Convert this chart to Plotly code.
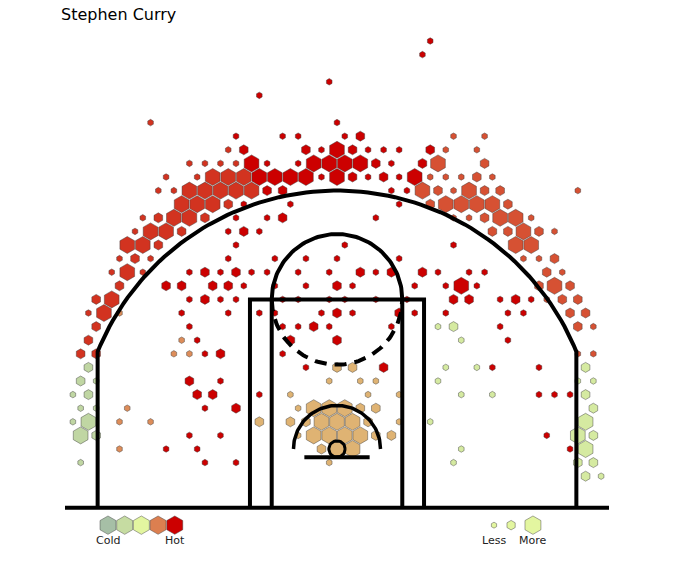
import numpy as np
import plotly.graph_objects as go

# Shot bins: (row, col, frequency level 1-4) on the hex grid, hoop at row 0 / col 0.
# col counts half-hex steps, so even rows use even cols and odd rows odd cols.
mid_range = [
    (30, 12, 1), (29, 11, 1), (27, -1, 1), (26, -10, 1), (24, 0, 1),
    (23, -13, 1), (23, -7, 1), (23, -5, 1), (23, 1, 1), (23, 3, 2),
    (22, -12, 2), (22, -4, 2), (22, -2, 1), (22, 0, 4), (22, 2, 2), (22, 4, 1), (22, 6, 1), (22, 8, 1), (22, 12, 2),
    (21, -11, 4), (21, -9, 1), (21, -5, 1), (21, -3, 4), (21, -1, 4), (21, 1, 4), (21, 3, 4), (21, 5, 2), (21, 7, 1), (21, 11, 2),
    (20, -10, 4), (20, -8, 4), (20, -6, 4), (20, -4, 4), (20, -2, 1), (20, 0, 4), (20, 2, 2), (20, 4, 1), (20, 6, 2), (20, 8, 1), (20, 10, 4),
    (19, -9, 2), (19, -7, 2), (19, 7, 1), (19, 9, 1),
    (18, -12, 1), (18, -6, 1), (18, 8, 1),
    (17, -13, 1), (17, -9, 1), (17, -7, 2), (17, 5, 1),
    (16, -14, 1), (16, -12, 2), (16, -10, 1),
    (15, -13, 1), (15, 1, 1), (15, 15, 1),
    (14, -14, 1), (14, -8, 1), (14, -4, 1), (14, 0, 1), (14, 8, 1),
    (13, -19, 1), (13, -17, 2), (13, -15, 1), (13, -13, 2), (13, -11, 1), (13, -9, 1), (13, -5, 1), (13, -1, 1),
    (13, 3, 2), (13, 5, 1), (13, 7, 2), (13, 11, 2), (13, 13, 1), (13, 17, 1), (13, 19, 1),
    (12, -22, 2), (12, -20, 2), (12, -16, 2), (12, -14, 2), (12, -12, 1), (12, -8, 1), (12, -4, 1), (12, 0, 2),
    (12, 2, 1), (12, 10, 1), (12, 14, 1), (12, 16, 4), (12, 18, 1),
    (11, -19, 1), (11, -17, 2), (11, -15, 1), (11, -13, 1), (11, -7, 1), (11, -5, 1), (11, -1, 1), (11, 1, 1),
    (11, 5, 1), (11, 9, 1), (11, 15, 2), (11, 17, 2), (11, 21, 1), (11, 23, 2), (11, 25, 1),
    (10, -20, 1), (10, -14, 1), (10, -10, 1), (10, -8, 1), (10, -2, 1), (10, 0, 2), (10, 2, 1), (10, 8, 2),
    (10, 10, 1), (10, 14, 1), (10, 22, 1), (10, 24, 1),
    (9, -19, 1), (9, -7, 1), (9, -5, 1), (9, -3, 2), (9, -1, 1), (9, 7, 1), (9, 21, 1),
    (8, -18, 1), (8, -6, 2), (8, 0, 2), (8, 22, 1),
    (7, -17, 1), (7, -15, 2), (7, -7, 1),
    (6, -4, 1), (6, 6, 2), (6, 20, 1), (6, 26, 1),
    (5, -19, 2), (5, -15, 1),
    (4, -18, 2), (4, -16, 2), (4, -10, 1), (4, 26, 1), (4, 28, 1), (4, 30, 1),
    (3, -17, 1), (3, -13, 2),
    (1, -19, 1), (1, -15, 1), (1, 27, 1),
    (0, -22, 1), (0, -18, 1), (0, 30, 1),
    (-1, -17, 1), (-1, -13, 1),
]
left_wing = [
    (24, -24, 1), (22, -14, 1),
    (21, -19, 1), (21, -17, 1), (21, -15, 1), (21, -13, 1),
    (20, -22, 1), (20, -18, 1), (20, -16, 4), (20, -14, 4), (20, -12, 4),
    (19, -23, 1), (19, -21, 1), (19, -19, 4), (19, -17, 4), (19, -15, 4), (19, -13, 4), (19, -11, 4),
    (18, -20, 4), (18, -18, 4), (18, -16, 4), (18, -14, 2),
    (17, -25, 1), (17, -23, 2), (17, -21, 4), (17, -19, 4), (17, -17, 2),
    (16, -26, 1), (16, -24, 4), (16, -22, 4), (16, -20, 2),
    (15, -27, 4), (15, -25, 4), (15, -23, 2),
    (14, -28, 1), (14, -26, 2), (14, -24, 1),
    (13, -29, 1), (13, -27, 4), (13, -25, 1),
    (12, -28, 2), (11, -31, 2), (11, -29, 4), (10, -32, 1), (10, -30, 4),
    (9, -31, 2), (8, -32, 2), (7, -33, 2), (7, -31, 2),
]
right_wing = [
    (23, 15, 1), (23, 19, 1), (22, 14, 1), (22, 18, 1), (21, 13, 4), (21, 19, 2),
    (20, 12, 1), (20, 14, 1), (20, 16, 1), (20, 18, 2), (20, 20, 1),
    (19, 11, 4), (19, 13, 2), (19, 15, 1), (19, 17, 4), (19, 19, 2), (19, 21, 2), (19, 31, 1),
    (18, 12, 2), (18, 14, 4), (18, 16, 4), (18, 18, 4), (18, 20, 4), (18, 22, 2),
    (17, 15, 1), (17, 17, 1), (17, 19, 2), (17, 21, 4), (17, 23, 4), (17, 25, 1),
    (16, 20, 2), (16, 22, 2), (16, 24, 4), (16, 26, 2), (16, 28, 1),
    (15, 23, 4), (15, 25, 4), (14, 24, 1), (14, 26, 1), (14, 28, 2),
    (13, 27, 2), (13, 29, 1), (12, 26, 2), (12, 28, 4), (12, 30, 2),
    (11, 27, 1), (11, 29, 2), (11, 31, 2), (10, 30, 2), (10, 32, 2),
    (9, 31, 2), (9, 33, 1), (7, 31, 1), (7, 33, 1),
]
left_baseline = [
    (10, -28, 1), (8, -20, 1), (7, -21, 1), (7, -19, 1),
    (3, -27, 1), (2, -28, 1), (2, -24, 1), (0, -28, 1),
]
paint = [
    (6, 0, 2), (6, 2, 2), (5, -1, 1), (5, 3, 1), (5, 5, 1), (4, -6, 1), (4, 4, 1), (4, 8, 1),
    (3, -5, 1), (3, -3, 4), (3, -1, 4), (3, 1, 4), (3, 3, 2), (3, 5, 2),
    (2, -10, 2), (2, -6, 2), (2, -4, 2), (2, -2, 4), (2, 0, 4), (2, 2, 4), (2, 4, 2), (2, 8, 1),
    (1, -5, 1), (1, -3, 4), (1, -1, 4), (1, 1, 4), (1, 3, 4), (1, 5, 2), (1, 7, 2),
    (0, -2, 2), (0, 0, 4), (0, 2, 4), (-1, -1, 1),
]
right_corner = [
    (9, 13, 1), (9, 15, 2), (8, 16, 1), (6, 14, 1), (6, 18, 1), (6, 32, 2),
    (5, 13, 1), (5, 31, 1), (5, 33, 1), (4, 16, 1), (4, 20, 1), (4, 32, 2),
    (3, 33, 2), (2, 12, 1), (2, 32, 4), (1, 31, 4), (1, 33, 2), (0, 16, 1), (0, 32, 4),
    (-1, 15, 1), (-1, 31, 2), (-1, 33, 2), (-2, 32, 2), (-2, 34, 1),
]
left_corner = [
    (6, -32, 2), (5, -33, 2), (5, -31, 1), (4, -34, 1), (4, -32, 2),
    (3, -33, 1), (3, -31, 1), (2, -34, 1), (2, -32, 4), (1, -33, 4), (1, -31, 2), (-1, -33, 1),
]

zone_bins = [mid_range, left_wing, right_wing, left_baseline, paint, right_corner, left_corner]
zone_heat = [1.0, 0.9, 0.84, 0.72, 0.64, 0.38, 0.2]

legend_heat = [0.0, 0.25, 0.5, 0.75, 1.0]
legend_freq = [1, 2, 4]

HEAT_SCALE = [[0.0, "#A6BFA6"], [0.25, "#C6DCA2"], [0.5, "#E3F6A0"],
              [0.75, "#DC7F50"], [1.0, "#CC0000"]]

PX_PER_UNIT = 1.088      # screen pixels per court unit (0.1 ft)
COL_STEP = 7.14          # half hex width, court units
ROW_STEP = 12.5          # hex row spacing, court units
SIZE_PX = {1: 6.5, 2: 10, 3: 13.5, 4: 17}
LEGEND_SIZE_PX = {1: 6, 2: 9.5, 4: 18.4}
W, H = 673, 569
M_L, M_R, M_T, M_B = 65, 64, 20, 20
HOOP_PX_Y = 449
FONT = "DejaVu Sans"
EDGE = {"width": 0.6, "color": "rgba(60,60,60,0.75)"}


def arc(cx, cy, r, t0, t1, n=90):
    t = np.radians(np.linspace(t0, t1, n))
    return cx + r * np.cos(t), cy + r * np.sin(t)


def line(x, y, width=4, dash="solid"):
    return go.Scatter(x=list(x), y=list(y), mode="lines", hoverinfo="skip",
                      line={"color": "black", "width": width, "dash": dash})


fig = go.Figure()

# hexbins
xs, ys, sizes, heats = [], [], [], []
for bins, heat in zip(zone_bins, zone_heat):
    for row, col, freq in bins:
        xs.append(col * COL_STEP)
        ys.append(row * ROW_STEP)
        sizes.append(SIZE_PX[freq])
        heats.append(heat)

fig.add_trace(go.Scatter(
    x=xs, y=ys, mode="markers", hoverinfo="skip",
    marker={"symbol": "hexagon", "size": sizes, "color": heats, "opacity": 1,
            "colorscale": HEAT_SCALE, "cmin": 0, "cmax": 1, "line": EDGE},
))

# court
baseline = -54
key_top = 137.5
fig.add_trace(line([-250, 250], [baseline, baseline]))
fig.add_trace(line([-80, -80, 80, 80], [baseline, key_top, key_top, baseline]))
fig.add_trace(line([-60, -60], [baseline, key_top]))
fig.add_trace(line([60, 60], [baseline, key_top]))
fig.add_trace(line(*arc(0, key_top, 60, 0, 180)))
fig.add_trace(line(*arc(0, key_top, 60, 180, 360), dash="12px,8px"))
fig.add_trace(line(*arc(0, 0, 40, 0, 180), width=3.5))
fig.add_trace(line(*arc(0, 0, 7.5, 0, 360, 40), width=3))
fig.add_trace(line([-30, 30], [-7.5, -7.5]))
t0 = np.degrees(np.arccos(220 / 237.5))
ax3, ay3 = arc(0, 0, 237.5, 180 - t0, t0)
fig.add_trace(line(np.r_[-220, ax3, 220], np.r_[baseline, ay3, baseline]))

# legends
leg_y = -70
txt_y = -84.5
leg_x = [-210.5 + i * 15.35 for i in range(len(legend_heat))]
fig.add_trace(go.Scatter(
    x=leg_x, y=[leg_y] * len(leg_x), mode="markers", hoverinfo="skip",
    marker={"symbol": "hexagon", "size": 18.4, "color": legend_heat, "opacity": 1,
            "colorscale": HEAT_SCALE, "cmin": 0, "cmax": 1, "line": EDGE},
))
size_x = [144.3, 160.0, 180.1]
fig.add_trace(go.Scatter(
    x=size_x, y=[leg_y] * len(size_x), mode="markers", hoverinfo="skip",
    marker={"symbol": "hexagon", "size": [LEGEND_SIZE_PX[f] for f in legend_freq],
            "color": "#E3F6A0", "opacity": 1, "line": EDGE},
))
for x, label in [(leg_x[0], "Cold"), (leg_x[-1], "Hot"), (size_x[0], "Less"), (size_x[-1], "More")]:
    fig.add_annotation(x=x, y=txt_y, text=label, showarrow=False,
                       font={"family": FONT, "size": 11, "color": "#222"})

y_top = (HOOP_PX_Y - M_T) / PX_PER_UNIT
y_bot = (HOOP_PX_Y - (H - M_B)) / PX_PER_UNIT

fig.update_layout(
    width=W, height=H,
    margin={"l": M_L, "r": M_R, "t": M_T, "b": M_B},
    showlegend=False,
    plot_bgcolor="white", paper_bgcolor="white",
    xaxis={"range": [-250, 250], "visible": False},
    yaxis={"range": [y_bot, y_top], "visible": False},
    title={"text": "Stephen Curry", "x": 61 / W, "xanchor": "left",
           "y": 1 - 14 / H, "yanchor": "middle",
           "font": {"family": FONT, "size": 16, "color": "black"}},
)

fig.write_html("out.html", config={"displayModeBar": False},
               post_script="document.body.style.margin='0';")
